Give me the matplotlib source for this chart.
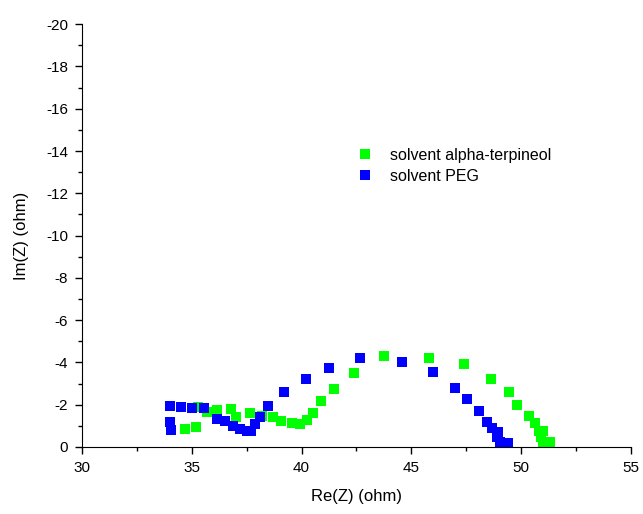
import numpy as np
import matplotlib
matplotlib.use("Agg")
import matplotlib.pyplot as plt
from matplotlib.ticker import MultipleLocator

plt.rcParams['font.family'] = ['Liberation Sans', 'DejaVu Sans']
plt.rcParams['axes.unicode_minus'] = False

# solvent alpha-terpineol (green)
re_terp = [34.71, 35.19, 35.30, 35.71, 36.13, 36.80, 37.00, 37.65, 38.18, 38.68,
           39.05, 39.55, 39.93, 40.26, 40.53, 40.87, 41.48, 42.40, 43.77, 45.80,
           47.40, 48.65, 49.46, 49.82, 50.36, 50.64, 50.81, 51.02, 50.93, 51.00, 51.34]
im_terp = [-0.85, -0.96, -1.88, -1.67, -1.75, -1.78, -1.43, -1.59, -1.48, -1.40,
           -1.24, -1.12, -1.09, -1.28, -1.62, -2.16, -2.76, -3.48, -4.32, -4.22,
           -3.92, -3.23, -2.60, -1.99, -1.48, -1.12, -0.77, -0.76, -0.49, -0.25, -0.22]

# solvent PEG (blue)
re_peg = [34.00, 34.00, 34.05, 34.52, 35.00, 35.54, 36.13, 36.53, 36.90, 37.19,
          37.50, 37.68, 37.88, 38.10, 38.46, 39.20, 40.20, 41.23, 42.66, 44.59,
          45.97, 46.99, 47.54, 48.08, 48.43, 48.69, 48.96, 48.91, 49.03, 49.41]
im_peg = [-1.94, -1.17, -0.80, -1.90, -1.86, -1.83, -1.31, -1.24, -0.99, -0.87,
          -0.76, -0.77, -1.09, -1.43, -1.94, -2.60, -3.21, -3.75, -4.19, -4.00,
          -3.56, -2.77, -2.25, -1.70, -1.20, -0.91, -0.72, -0.46, -0.25, -0.17]

fig = plt.figure(figsize=(6.43, 5.14), dpi=100)
ax = fig.add_axes([0.1275, 0.1304, 0.8535, 0.8226])

ax.plot(re_terp, im_terp, 's', color='#00ff00', markersize=7.2, markeredgewidth=0,
        label='solvent alpha-terpineol')
ax.plot(re_peg, im_peg, 's', color='#0000ff', markersize=7.2, markeredgewidth=0,
        label='solvent PEG')

ax.set_xlim(30, 55)
ax.set_ylim(0, -20)
ax.xaxis.set_major_locator(MultipleLocator(5))
ax.xaxis.set_minor_locator(MultipleLocator(2.5))
ax.yaxis.set_major_locator(MultipleLocator(2))
ax.yaxis.set_minor_locator(MultipleLocator(1))
ax.tick_params(which='major', direction='out', length=5, width=1, labelsize=11, pad=5)
ax.tick_params(which='minor', direction='out', length=3, width=1)

ax.spines['top'].set_visible(False)
ax.spines['right'].set_visible(False)

ax.set_xlabel('Re(Z) (ohm)', fontsize=12)
ax.set_ylabel('Im(Z) (ohm)', fontsize=12)
ax.xaxis.set_label_coords(0.5, -0.1)
ax.yaxis.set_label_coords(-0.097, 0.5)

ax.legend(loc='upper left', bbox_to_anchor=(0.46, 0.742), frameon=False,
          fontsize=11.5, handletextpad=0.55, labelspacing=0.4)

fig.savefig('out.png', dpi=100)
